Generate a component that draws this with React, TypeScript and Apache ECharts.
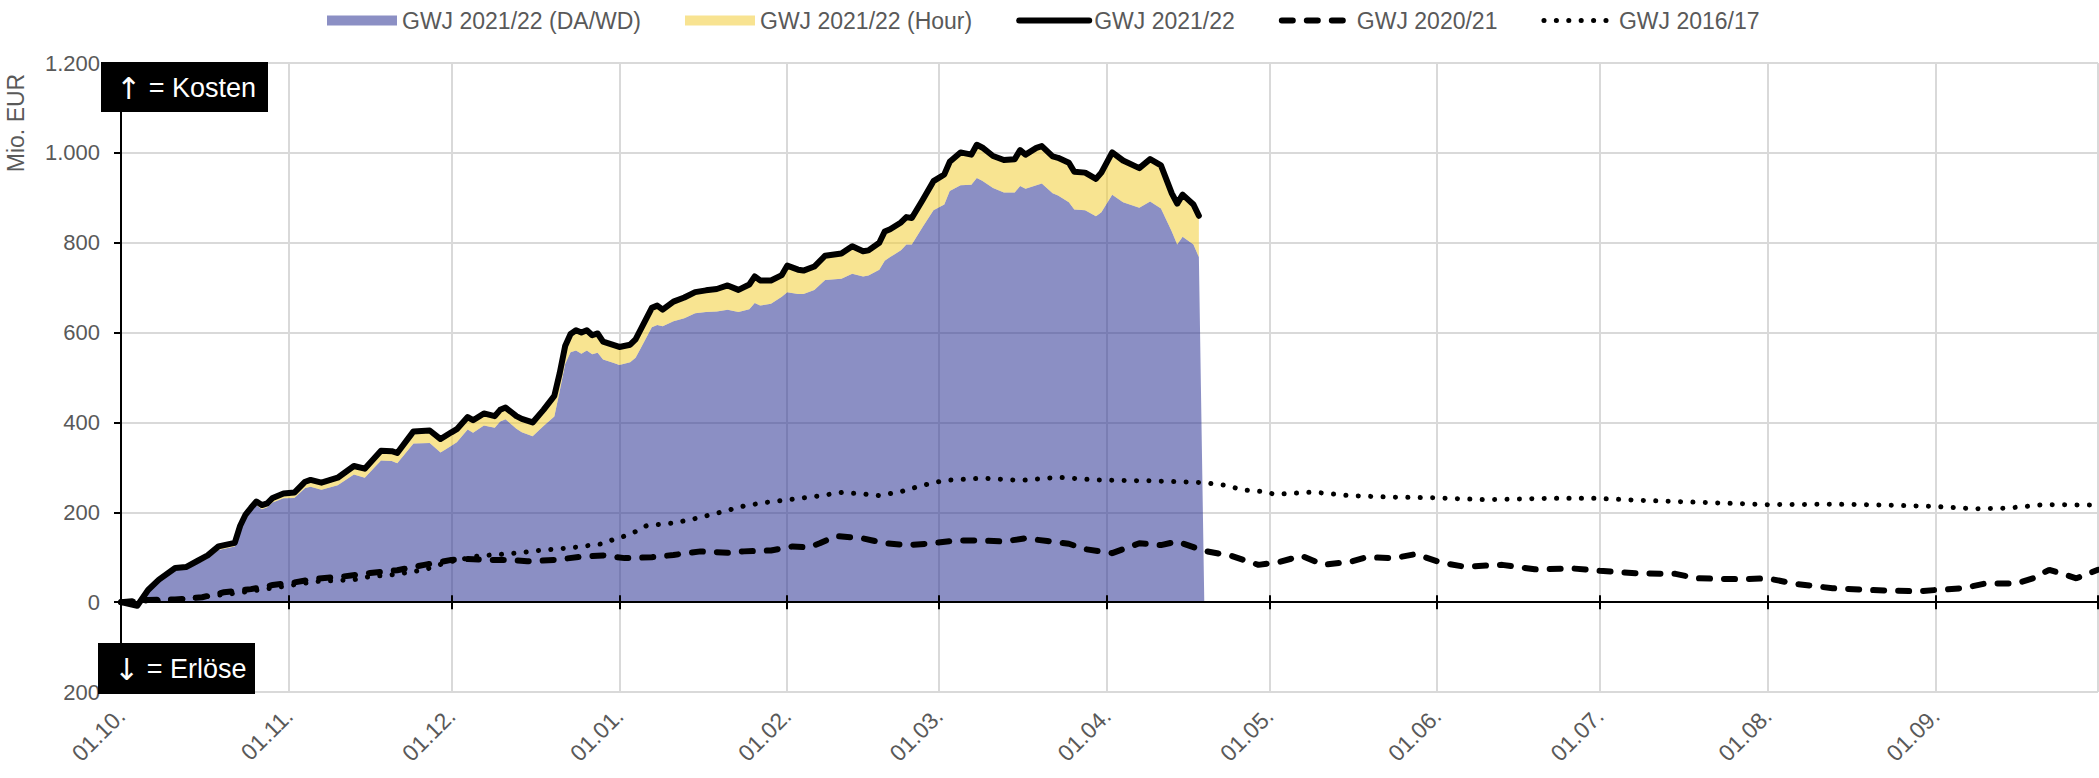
import React, { useEffect, useRef } from "react";
import * as echarts from "echarts";

const FONT = '"Liberation Sans", Arial, sans-serif';
const ARROW_FONT = '"DejaVu Sans", "Liberation Sans", sans-serif';
const GRAY = "#595959";
const GRID = "#d9d9d9";

// Categories: one per day, 01.10.2021 .. 01.10.2022
const START = Date.UTC(2021, 9, 1);
const N_DAYS = 366;
const categories: string[] = Array.from({ length: N_DAYS }, (_, i) => {
  const d = new Date(START + i * 86400000);
  return `${String(d.getUTCDate()).padStart(2, "0")}.${String(d.getUTCMonth() + 1).padStart(2, "0")}.`;
});

const yTicks = [-200, 0, 200, 400, 600, 800, 1000, 1200];

// GWJ 2021/22 (day index since 01.10.2021)
const days2122 = [
  0, 3, 5, 7, 10, 12, 14, 16, 18, 21, 22, 23, 24, 25, 26, 27, 28, 30, 32, 34, 35, 37, 40, 43, 45, 48, 50, 51, 54, 57,
  59, 61, 62, 64, 65, 67, 69, 70, 71, 73, 74, 76, 78, 80, 81, 82, 83, 84, 85, 86, 87, 88, 89, 91, 92, 94, 95, 96, 98,
  99, 100, 102, 104, 106, 108, 110, 112, 114, 116, 117, 118, 120, 122, 123, 125, 126, 128, 130, 133, 135, 137, 138,
  140, 141, 142, 144, 145, 146, 148, 150, 152, 153, 155, 157, 158, 159, 161, 163, 165, 166, 167, 169, 170, 172, 173,
  175, 176, 178, 180, 181, 183, 185, 188, 190, 192, 194, 195, 196, 198, 199, 200,
];
const daWd = [
  0, -5, 22, 45, 71, 73, 85, 97, 116, 124, 162, 187, 202, 216, 207, 211, 222, 231, 232, 254, 257, 250, 260, 284, 277,
  315, 314, 309, 353, 354, 333, 348, 356, 384, 377, 393, 388, 402, 407, 386, 378, 369, 392, 413, 470, 530, 556, 560,
  553, 560, 552, 555, 540, 532, 528, 534, 544, 566, 612, 617, 614, 625, 632, 643, 646, 647, 651, 646, 652, 666, 660,
  664, 680, 690, 686, 686, 695, 717, 720, 731, 725, 727, 740, 760, 768, 783, 796, 796, 835, 872, 885, 915, 928, 929,
  944, 938, 922, 912, 912, 926, 920, 928, 932, 910, 905, 890, 874, 872, 859, 868, 907, 890, 878, 892, 876, 825, 796,
  813, 796, 768, 0,
];
const hour = [
  0, -3, 5, 5, 5, 5, 6, 7, 8, 8, 8, 8, 8, 8, 9, 9, 10, 11, 12, 14, 15, 16, 17, 19, 20, 22, 22, 23, 27, 28, 30, 30,
  29, 28, 28, 27, 26, 26, 26, 28, 30, 31, 36, 46, 40, 40, 41, 45, 47, 45, 42, 43, 40, 40, 40, 39, 41, 42, 43, 43, 37,
  44, 46, 47, 48, 50, 54, 49, 55, 59, 56, 52, 48, 59, 54, 52, 52, 54, 56, 61, 56, 56, 60, 65, 62, 62, 61, 59, 60, 65,
  67, 65, 73, 67, 74, 74, 71, 72, 74, 80, 76, 83, 83, 82, 84, 88, 84, 84, 83, 88, 94, 93, 88, 94, 96, 85, 91, 94, 89,
  92, null,
];

// GWJ 2020/21
const days2021 = [
  0, 5, 10, 15, 19, 24, 28, 32, 36, 41, 46, 51, 56, 61, 64, 68, 72, 75, 80, 85, 89, 93, 98, 102, 107, 112, 115, 120,
  124, 127, 129, 132, 137, 141, 145, 149, 154, 159, 163, 167, 171, 175, 178, 183, 188, 192, 195, 200, 205, 210, 214,
  218, 222, 227, 230, 235, 239, 244, 248, 255, 261, 268, 273, 280, 287, 291, 299, 304, 309, 316, 323, 332, 335, 340,
  344, 350, 353, 356, 361, 365,
];
const val2021 = [
  0, 5, 6, 11, 22, 29, 38, 44, 52, 57, 65, 71, 83, 94, 96, 94, 94, 91, 94, 101, 104, 98, 100, 105, 113, 110, 113, 115,
  124, 122, 131, 147, 142, 131, 127, 130, 137, 137, 135, 142, 136, 130, 118, 109, 131, 127, 135, 114, 103, 83, 90, 103,
  83, 90, 100, 98, 107, 87, 79, 83, 73, 75, 70, 64, 63, 53, 51, 53, 41, 31, 27, 24, 27, 31, 41, 42, 53, 72, 53, 72,
];

// GWJ 2016/17
const days1617 = [
  0, 10, 20, 30, 36, 43, 46, 50, 53, 56, 60, 66, 72, 78, 83, 89, 91, 93, 95, 97, 102, 106, 111, 115, 119, 124, 128, 133,
  137, 140, 144, 148, 152, 159, 166, 173, 180, 184, 190, 195, 200, 204, 207, 211, 213, 220, 227, 234, 243, 252, 263,
  272, 282, 292, 304, 316, 326, 335, 342, 348, 355, 365,
];
const val1617 = [
  0, 5, 18, 35, 46, 50, 57, 61, 66, 72, 88, 103, 108, 116, 121, 130, 140, 147, 157, 170, 176, 186, 201, 214, 222, 229,
  235, 244, 241, 237, 246, 260, 271, 276, 271, 278, 272, 271, 270, 268, 266, 260, 250, 246, 240, 245, 237, 234, 232,
  228, 231, 231, 226, 222, 217, 218, 216, 213, 208, 209, 217, 216,
];

const S1 = "GWJ 2021/22 (DA/WD)";
const S2 = "GWJ 2021/22 (Hour)";
const S3 = "GWJ 2021/22";
const S4 = "GWJ 2020/21";
const S5 = "GWJ 2016/17";

const isMonthStart = (v: string) => v.startsWith("01.");

const boxText = (arrow: string, label: string) => ({
  text: `{a|${arrow}}{t| = ${label}}`,
  fill: "#fff",
  align: "left",
  verticalAlign: "middle",
  rich: {
    a: { fontSize: 30, fontFamily: ARROW_FONT, fill: "#fff", color: "#fff" },
    t: { fontSize: 27, fontFamily: FONT, fill: "#fff", color: "#fff" },
  },
});

export default function App() {
  const ref = useRef<HTMLDivElement>(null);
  useEffect(() => {
    if (!ref.current) return;
    const chart = echarts.init(ref.current, undefined, { renderer: "svg" });
    const totalData = days2122
      .map((d, i) => (hour[i] == null ? null : [d, daWd[i] + (hour[i] as number)]))
      .filter((p) => p !== null);

    chart.setOption({
      animation: false,
      backgroundColor: "#ffffff",
      textStyle: { fontFamily: FONT },
      grid: { left: 121, right: 1, top: 63, bottom: 86, containLabel: false },
      legend: {
        left: 322,
        top: 4,
        itemWidth: 70,
        itemHeight: 10,
        itemGap: 44,
        textStyle: { fontSize: 23, color: GRAY, fontFamily: FONT },
        lineStyle: { width: "inherit" },
        data: [
          { name: S1, icon: "rect" },
          { name: S2, icon: "rect" },
          { name: S3, itemStyle: { opacity: 0 } },
          { name: S4, itemStyle: { opacity: 0 } },
          { name: S5, itemStyle: { opacity: 0 } },
        ],
      },
      xAxis: [
        {
          type: "category",
          data: categories,
          boundaryGap: false,
          position: "bottom",
          axisLine: { show: false, onZero: false },
          axisTick: { show: false },
          axisLabel: {
            interval: (i: number, v: string) => isMonthStart(v) && i < N_DAYS - 1,
            rotate: 45,
            margin: 20,
            fontSize: 23,
            color: GRAY,
            fontFamily: FONT,
          },
          splitLine: {
            show: true,
            interval: (i: number, v: string) => isMonthStart(v) && i > 0,
            lineStyle: { color: GRID, width: 2 },
          },
        },
        {
          type: "category",
          data: categories,
          boundaryGap: false,
          position: "bottom",
          z: 10,
          axisLine: { show: true, onZero: true, lineStyle: { color: "#000", width: 2 } },
          axisTick: {
            show: true,
            interval: (i: number, v: string) => isMonthStart(v),
            length: 7,
            lineStyle: { color: "#000", width: 2 },
          },
          axisLabel: { show: false },
          splitLine: { show: false },
        },
        {
          type: "category",
          data: categories,
          boundaryGap: false,
          position: "bottom",
          z: 10,
          axisLine: { show: false, onZero: true },
          axisTick: {
            show: true,
            inside: true,
            interval: (i: number, v: string) => isMonthStart(v),
            length: 7,
            lineStyle: { color: "#000", width: 2 },
          },
          axisLabel: { show: false },
          splitLine: { show: false },
        },
      ],
      yAxis: [
        {
          type: "value",
          min: yTicks[0],
          max: yTicks[yTicks.length - 1],
          interval: 200,
          position: "left",
          axisLine: { show: false },
          axisTick: { show: false },
          axisLabel: {
            margin: 21,
            fontSize: 22,
            color: GRAY,
            fontFamily: FONT,
            formatter: (v: number) => Math.abs(v).toLocaleString("de-DE"),
          },
          splitLine: { show: true, lineStyle: { color: GRID, width: 2 } },
        },
        {
          type: "value",
          min: yTicks[0],
          max: yTicks[yTicks.length - 1],
          interval: 200,
          position: "left",
          z: 10,
          axisLine: { show: true, onZero: false, lineStyle: { color: "#000", width: 2 } },
          axisTick: { show: true, length: 7, lineStyle: { color: "#000", width: 2 } },
          axisLabel: { show: false },
          splitLine: { show: false },
        },
      ],
      series: [
        {
          name: S1,
          type: "line",
          stack: "gwj2122",
          symbol: "none",
          data: days2122.map((d, i) => [d, daWd[i]]),
          lineStyle: { width: 0 },
          itemStyle: { color: "#8b8fc4" },
          areaStyle: { color: "rgba(44,51,148,0.55)", opacity: 1 },
          z: 2,
        },
        {
          name: S2,
          type: "line",
          stack: "gwj2122",
          symbol: "none",
          data: days2122.map((d, i) => [d, hour[i]]),
          lineStyle: { width: 0 },
          itemStyle: { color: "#f8e391" },
          areaStyle: { color: "rgba(242,206,55,0.55)", opacity: 1 },
          z: 2,
        },
        {
          name: S5,
          type: "line",
          symbol: "none",
          data: days1617.map((d, i) => [d, val1617[i]]),
          itemStyle: { color: "#000" },
          lineStyle: { color: "#000", width: 5, type: [0.1, 12.3], cap: "round" },
          z: 3,
        },
        {
          name: S4,
          type: "line",
          symbol: "none",
          data: days2021.map((d, i) => [d, val2021[i]]),
          itemStyle: { color: "#000" },
          lineStyle: { color: "#000", width: 6, type: [11, 14], cap: "round" },
          z: 3,
        },
        {
          name: S3,
          type: "line",
          symbol: "none",
          data: totalData,
          itemStyle: { color: "#000" },
          lineStyle: { color: "#000", width: 6, join: "round", cap: "round" },
          z: 4,
        },
      ],
      graphic: [
        {
          type: "text",
          x: 16,
          y: 123,
          rotation: Math.PI / 2,
          style: {
            text: "Mio. EUR",
            fill: GRAY,
            fontSize: 23,
            fontFamily: FONT,
            align: "center",
            verticalAlign: "middle",
          },
          z: 100,
        },
        {
          type: "group",
          z: 100,
          children: [
            { type: "rect", shape: { x: 101, y: 62, width: 167, height: 50 }, style: { fill: "#000" }, z: 100 },
            { type: "text", x: 116, y: 88, style: boxText("↑", "Kosten"), z: 101 },
          ],
        },
        {
          type: "group",
          z: 100,
          children: [
            { type: "rect", shape: { x: 98, y: 643, width: 157, height: 51 }, style: { fill: "#000" }, z: 100 },
            { type: "text", x: 114, y: 669, style: boxText("↓", "Erlöse"), z: 101 },
          ],
        },
      ],
    });
    return () => chart.dispose();
  }, []);

  return (
    <div
      ref={ref}
      style={{ position: "fixed", left: 0, top: 0, width: 2099, height: 778, background: "#fff" }}
    />
  );
}
